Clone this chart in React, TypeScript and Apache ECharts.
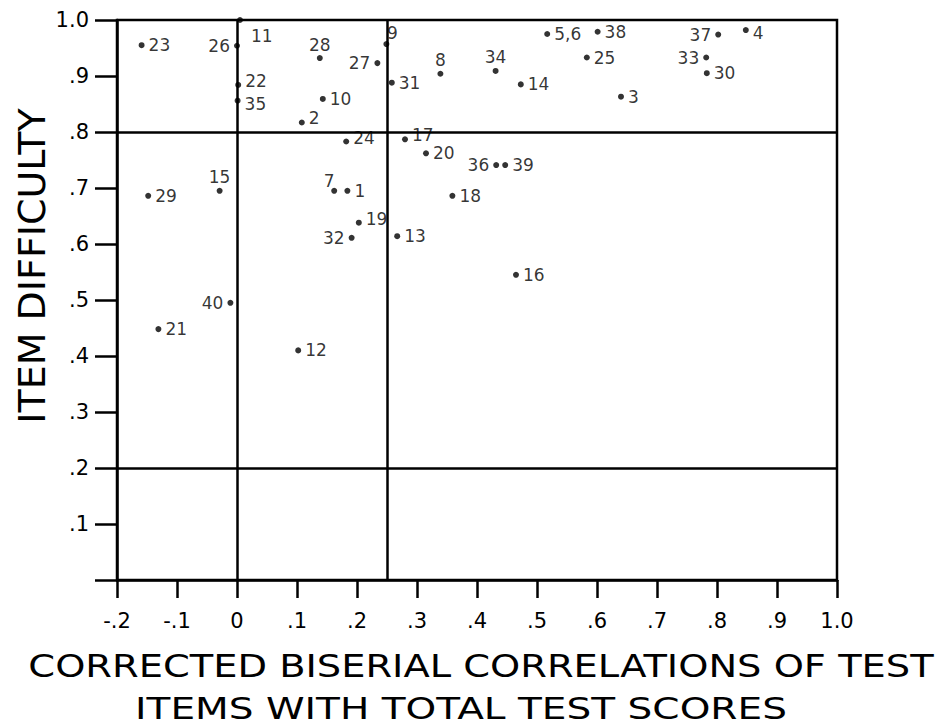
import React, { useEffect, useRef } from "react";
import * as echarts from "echarts";

// Item numbers, corrected biserial correlations (x) and item difficulties (y)
const itemLabels = [
  "1", "2", "3", "4", "5,6", "7", "8", "9", "10", "11",
  "12", "13", "14", "15", "16", "17", "18", "19", "20", "21",
  "22", "23", "24", "25", "26", "27", "28", "29", "30", "31",
  "32", "33", "34", "35", "36", "37", "38", "39", "40",
];
const correlations = [
  0.184, 0.108, 0.64, 0.848, 0.517, 0.162, 0.339, 0.249, 0.143, 0.005,
  0.102, 0.267, 0.473, -0.029, 0.465, 0.28, 0.359, 0.203, 0.315, -0.131,
  0.002, -0.159, 0.182, 0.583, 0.0, 0.234, 0.138, -0.148, 0.783, 0.258,
  0.191, 0.782, 0.431, 0.001, 0.432, 0.802, 0.601, 0.447, -0.011,
];
const difficulties = [
  0.695, 0.817, 0.863, 0.982, 0.975, 0.695, 0.904, 0.957, 0.859, 1.0,
  0.41, 0.614, 0.885, 0.695, 0.545, 0.787, 0.686, 0.638, 0.762, 0.448,
  0.884, 0.955, 0.783, 0.933, 0.954, 0.923, 0.932, 0.686, 0.905, 0.888,
  0.611, 0.933, 0.909, 0.856, 0.741, 0.974, 0.979, 0.741, 0.495,
];
// where each item's number is written relative to its dot
const labelSides = [
  "r", "ru", "r", "rd", "r", "tl", "t", "tr", "r", "br",
  "r", "r", "r", "t", "r", "ru", "r", "ru", "r", "r",
  "ru", "r", "ru", "r", "l", "l", "t", "r", "r", "r",
  "l", "l", "t", "rd", "l", "l", "r", "r", "l",
];

const xTickLabels = ["-.2", "-.1", "0", ".1", ".2", ".3", ".4", ".5", ".6", ".7", ".8", ".9", "1.0"];
const yTickLabels = ["", ".1", ".2", ".3", ".4", ".5", ".6", ".7", ".8", ".9", "1.0"];
const verticalRefs = [0, 0.25];
const horizontalRefs = [0.2, 0.8];

const yTitle = "ITEM DIFFICULTY";
const xTitleLines = ["CORRECTED BISERIAL CORRELATIONS OF TEST", "ITEMS WITH TOTAL TEST SCORES"];

const FONT = "'DejaVu Sans', 'Liberation Sans', sans-serif";

function labelStyle(side: string) {
  switch (side) {
    case "l":
      return { position: "left", distance: 4, offset: [0, 0] };
    case "t":
      return { position: "top", distance: 2, offset: [0, 0] };
    case "tr":
      return { position: "top", distance: 0, offset: [6, 0] };
    case "tl":
      return { position: "top", distance: 0, offset: [-5, 2] };
    case "ru":
      return { position: "right", distance: 4, offset: [0, -4] };
    case "rd":
      return { position: "right", distance: 4, offset: [0, 3] };
    case "br":
      return { position: "right", distance: 8, offset: [0, 16] };
    default:
      return { position: "right", distance: 4, offset: [0, 0] };
  }
}

export default function App() {
  const ref = useRef<HTMLDivElement>(null);

  useEffect(() => {
    if (!ref.current) return;
    const chart = echarts.init(ref.current, null, { renderer: "svg" });

    const data = itemLabels.map((name, i) => {
      const ls = labelStyle(labelSides[i]);
      return {
        name,
        value: [correlations[i], difficulties[i]],
        label: {
          show: true,
          position: ls.position,
          distance: ls.distance,
          offset: ls.offset,
        },
      };
    });

    const axisLineStyle = { color: "#000", width: 2.5 };

    chart.setOption({
      animation: false,
      backgroundColor: "#fff",
      grid: {
        left: 117,
        top: 20,
        right: 101,
        bottom: 148,
        show: true,
        borderColor: "#000",
        borderWidth: 2.5,
      },
      xAxis: {
        type: "value",
        min: -0.2,
        max: 1.0,
        interval: 0.1,
        axisLine: { onZero: false, lineStyle: axisLineStyle },
        axisTick: { show: true, length: 18, lineStyle: axisLineStyle },
        splitLine: { show: false },
        axisLabel: {
          margin: 30,
          color: "#000",
          fontSize: 21,
          fontFamily: FONT,
          formatter: (v: number) => xTickLabels[Math.round(v * 10) + 2] ?? "",
        },
      },
      yAxis: {
        type: "value",
        min: 0,
        max: 1.0,
        interval: 0.1,
        axisLine: { onZero: false, lineStyle: axisLineStyle },
        axisTick: { show: true, length: 22, lineStyle: axisLineStyle },
        splitLine: { show: false },
        axisLabel: {
          margin: 28,
          color: "#000",
          fontSize: 21,
          fontFamily: FONT,
          formatter: (v: number) => yTickLabels[Math.round(v * 10)] ?? "",
        },
      },
      series: [
        {
          type: "scatter",
          symbol: "circle",
          symbolSize: 6,
          itemStyle: { color: "#000" },
          label: {
            color: "#000",
            fontSize: 17,
            fontFamily: FONT,
            formatter: (p: any) => p.name,
          },
          data,
          markLine: {
            silent: true,
            symbol: ["none", "none"],
            label: { show: false },
            lineStyle: { color: "#000", type: "solid", width: 2.5 },
            data: [
              ...verticalRefs.map((v) => ({ xAxis: v })),
              ...horizontalRefs.map((v) => ({ yAxis: v })),
            ],
          },
        },
      ],
      graphic: [
        {
          type: "text",
          x: 32,
          y: 266,
          rotation: Math.PI / 2,
          style: {
            text: yTitle,
            font: `38px ${FONT}`,
            fill: "#000",
            align: "center",
            verticalAlign: "middle",
          },
        },
        {
          type: "text",
          x: 481,
          y: 666,
          scaleX: 1.2,
          style: {
            text: xTitleLines[0],
            font: `32px ${FONT}`,
            fill: "#000",
            align: "center",
            verticalAlign: "middle",
          },
        },
        {
          type: "text",
          x: 461,
          y: 708,
          scaleX: 1.26,
          style: {
            text: xTitleLines[1],
            font: `31px ${FONT}`,
            fill: "#000",
            align: "center",
            verticalAlign: "middle",
          },
        },
      ],
    });

    return () => chart.dispose();
  }, []);

  return (
    <div
      ref={ref}
      style={{ position: "fixed", left: 0, top: 0, width: 938, height: 728, background: "#fff" }}
    />
  );
}
